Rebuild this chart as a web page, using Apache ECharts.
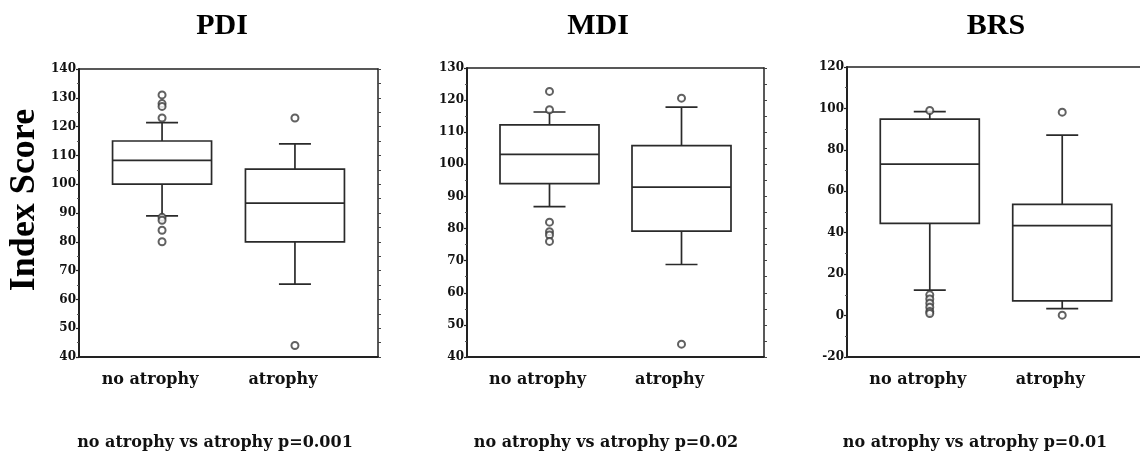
<!DOCTYPE html>
<html>
<head>
<meta charset="utf-8">
<script src="https://cdn.jsdelivr.net/npm/echarts@6/dist/echarts.min.js"></script>
<style>
    html, body { margin: 0; padding: 0; background: #fff; }
    #chart { width: 1140px; height: 457px; }
</style>
</head>
<body>
<div id="chart"></div>
<script>
'use strict';
// 数据
const groups = ['no atrophy', 'atrophy'];
const titles = ['PDI', 'MDI', 'BRS'];
const pValues = ['0.001', '0.02', '0.01'];

// [min, Q1, median, Q3, max]
const pdiBox = [[89, 100, 108.3, 115, 121.4], [65.3, 80, 93.4, 105.2, 114]];
const mdiBox = [[86.8, 94, 103.1, 112.3, 116.3], [68.8, 79.2, 92.9, 105.8, 117.8]];
const brsBox = [[12.3, 44.5, 73.1, 94.8, 98.5], [3.4, 7.1, 43.4, 53.7, 87.1]];

const pdiOutliers = [[131, 128, 127, 123, 88.5, 87.5, 84, 80], [123, 44]];
const mdiOutliers = [[122.7, 117, 82, 79, 78, 76], [120.6, 44]];
const brsOutliers = [[99, 10, 8, 6, 4, 2, 1], [98.2, 0.2]];

const pdiTicks = [40, 50, 60, 70, 80, 90, 100, 110, 120, 130, 140];
const mdiTicks = [40, 50, 60, 70, 80, 90, 100, 110, 120, 130];
const brsTicks = [-20, 0, 20, 40, 60, 80, 100, 120];

const boxes = [pdiBox, mdiBox, brsBox];
const outliers = [pdiOutliers, mdiOutliers, brsOutliers];
const ticks = [pdiTicks, mdiTicks, brsTicks];

// 布局
const grids = [
    { left: 79, top: 69, width: 299, height: 288, outerBoundsMode: 'none' },
    { left: 467, top: 68, width: 297, height: 289, outerBoundsMode: 'none' },
    { left: 847, top: 67, width: 298, height: 290, outerBoundsMode: 'none' },
];
const titleX = [222, 598, 996];
const pTextX = [215, 606, 975];
const BOX_W = 99;
const CAP_W = 32;

// 9 个槽位, 两组放在 2 和 6
const SLOTS = 9;
const groupSlot = [2, 6];
const categories = Array.from({ length: SLOTS }, (_, i) => {
    const g = groupSlot.indexOf(i);
    return g >= 0 ? groups[g] : '';
});
const isGroupSlot = idx => groupSlot.indexOf(idx) >= 0;

const INK = '#222';
const serif = '"DejaVu Serif", serif';
const times = '"Liberation Serif", "Times New Roman", serif';

const renderBox = (params, api) => {
    const x = api.value(0);
    const lo = api.coord([x, api.value(1)]);
    const q1 = api.coord([x, api.value(2)]);
    const md = api.coord([x, api.value(3)]);
    const q3 = api.coord([x, api.value(4)]);
    const hi = api.coord([x, api.value(5)]);
    const cx = lo[0];
    const half = BOX_W / 2;
    const cap = CAP_W / 2;
    const line = { stroke: '#2a2a2a', lineWidth: 1.7 };
    const seg = (x1, y1, x2, y2) => ({ type: 'line', shape: { x1, y1, x2, y2 }, style: line });
    return {
        type: 'group',
        children: [
            seg(cx, hi[1], cx, q3[1]),
            seg(cx, q1[1], cx, lo[1]),
            seg(cx - cap, hi[1], cx + cap, hi[1]),
            seg(cx - cap, lo[1], cx + cap, lo[1]),
            {
                type: 'rect',
                shape: { x: cx - half, y: q3[1], width: BOX_W, height: q1[1] - q3[1] },
                style: { fill: '#fff', stroke: '#2a2a2a', lineWidth: 1.7 },
            },
            seg(cx - half, md[1], cx + half, md[1]),
        ],
    };
};

const xAxis = [];
const yAxis = [];
const series = [];

grids.forEach((g, i) => {
    const t = ticks[i];
    const min = t[0];
    const max = t[t.length - 1];
    const interval = t[1] - t[0];

    xAxis.push({
        type: 'category',
        gridIndex: i,
        data: categories,
        position: 'bottom',
        axisLine: { onZero: false, lineStyle: { color: INK, width: 2 } },
        axisTick: { interval: isGroupSlot, alignWithLabel: true, length: 3, lineStyle: { color: INK } },
        axisLabel: {
            interval: 0,
            margin: 15,
            padding: [0, 24, 0, 0],
            color: '#111',
            fontFamily: serif,
            fontWeight: 'bold',
            fontSize: 16,
        },
        splitLine: { show: false },
    });
    xAxis.push({
        type: 'category',
        gridIndex: i,
        data: categories,
        position: 'top',
        axisLine: { onZero: false, lineStyle: { color: INK, width: 1.5 } },
        axisTick: { interval: isGroupSlot, alignWithLabel: true, length: 4, lineStyle: { color: INK } },
        axisLabel: { show: false },
        splitLine: { show: false },
    });
    yAxis.push({
        type: 'value',
        gridIndex: i,
        min,
        max,
        interval,
        position: 'left',
        axisLine: { show: true, onZero: false, lineStyle: { color: INK, width: 2 } },
        axisTick: { show: true, length: 3, lineStyle: { color: INK, width: 1.2 } },
        minorTick: { show: true, splitNumber: 2, length: 2, lineStyle: { color: '#555' } },
        axisLabel: {
            margin: 3,
            color: '#111',
            fontFamily: serif,
            fontWeight: 'bold',
            fontSize: 12,
        },
        splitLine: { show: false },
    });
    yAxis.push({
        type: 'value',
        gridIndex: i,
        min,
        max,
        interval,
        position: 'right',
        axisLine: { show: true, onZero: false, lineStyle: { color: INK, width: 1.5 } },
        axisTick: { show: true, length: 3, lineStyle: { color: '#444' } },
        minorTick: { show: true, splitNumber: 2, length: 3, lineStyle: { color: '#444' } },
        axisLabel: { show: false },
        splitLine: { show: false },
    });

    series.push({
        type: 'custom',
        xAxisIndex: 2 * i,
        yAxisIndex: 2 * i,
        data: boxes[i].map((b, gi) => [groupSlot[gi]].concat(b)),
        encode: { x: 0, y: [1, 2, 3, 4, 5] },
        renderItem: renderBox,
        silent: true,
        z: 2,
    });

    const pts = [];
    outliers[i].forEach((vals, gi) => {
        vals.forEach(v => pts.push([groupSlot[gi], v]));
    });
    series.push({
        type: 'scatter',
        xAxisIndex: 2 * i,
        yAxisIndex: 2 * i,
        data: pts,
        symbol: 'emptyCircle',
        symbolSize: 7,
        itemStyle: { color: '#3a3a3a', borderWidth: 1.3 },
        silent: true,
        z: 3,
    });
});

const graphic = [];
titles.forEach((t, i) => {
    graphic.push({
        type: 'text',
        x: titleX[i],
        y: 26,
        style: {
            text: t,
            fill: '#000',
            fontFamily: times,
            fontWeight: 'bold',
            fontSize: 30,
            align: 'center',
            verticalAlign: 'middle',
        },
    });
    graphic.push({
        type: 'text',
        x: pTextX[i],
        y: 443,
        style: {
            text: `${groups[0]} vs ${groups[1]} p=${pValues[i]}`,
            fill: '#111',
            fontFamily: serif,
            fontWeight: 'bold',
            fontSize: 16,
            align: 'center',
            verticalAlign: 'middle',
        },
    });
});
graphic.push({
    type: 'text',
    x: 25,
    y: 200,
    rotation: Math.PI / 2,
    style: {
        text: 'Index Score',
        fill: '#000',
        fontFamily: times,
        fontWeight: 'bold',
        fontSize: 36,
        align: 'center',
        verticalAlign: 'middle',
    },
});

const chart = echarts.init(document.getElementById('chart'));
chart.setOption({
    animation: false,
    backgroundColor: '#fff',
    grid: grids,
    xAxis,
    yAxis,
    series,
    graphic,
});
</script>
</body>
</html>
